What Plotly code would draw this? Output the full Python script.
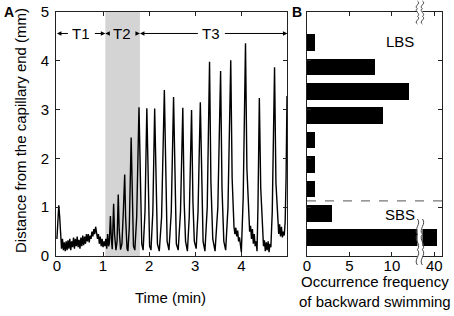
import plotly.graph_objects as go

# ---------------- data ----------------
time_min = [0.00, 0.02, 0.04, 0.06, 0.08, 0.10, 0.12, 0.14, 0.16, 0.18, 0.20, 0.22, 0.24, 0.26, 0.28,
            0.30, 0.32, 0.34, 0.36, 0.38, 0.40, 0.42, 0.44, 0.46, 0.48, 0.50, 0.52, 0.54, 0.56, 0.58,
            0.60, 0.62, 0.64, 0.66, 0.68, 0.70, 0.72, 0.74, 0.76, 0.78, 0.80, 0.82, 0.84, 0.86, 0.88,
            0.90, 0.92, 0.94, 0.96, 0.98, 1.00, 1.02, 1.04, 1.06, 1.08, 1.10, 1.12, 1.135, 1.16, 1.18,
            1.20, 1.23, 1.25, 1.28, 1.305, 1.33, 1.35, 1.38, 1.41, 1.44, 1.47, 1.49, 1.52, 1.54, 1.57,
            1.61, 1.635, 1.66, 1.69, 1.73, 1.78, 1.81, 1.84, 1.87, 1.91, 1.95, 1.98, 2.01, 2.04, 2.08,
            2.12, 2.15, 2.18, 2.22, 2.27, 2.33, 2.36, 2.39, 2.43, 2.48, 2.53, 2.56, 2.59, 2.63, 2.68,
            2.73, 2.76, 2.79, 2.83, 2.87, 2.92, 2.95, 2.98, 3.02, 3.06, 3.11, 3.14, 3.17, 3.21, 3.26,
            3.31, 3.34, 3.38, 3.43, 3.49, 3.55, 3.58, 3.62, 3.66, 3.71, 3.77, 3.80, 3.84, 3.86, 3.88,
            3.90, 3.92, 3.94, 3.96, 3.98, 4.00, 4.04, 4.09, 4.12, 4.16, 4.18, 4.20, 4.22, 4.24, 4.26,
            4.28, 4.30, 4.32, 4.34, 4.36, 4.39, 4.42, 4.46, 4.48, 4.50, 4.52, 4.54, 4.56, 4.58, 4.60,
            4.62, 4.64, 4.67, 4.72, 4.75, 4.79, 4.81, 4.83, 4.85, 4.87, 4.89, 4.91, 4.93, 4.95, 4.97,
            4.99]
distance_mm = [0.35, 0.60, 1.04, 0.80, 0.30, 0.15, 0.35, 0.12, 0.28, 0.10, 0.30, 0.12, 0.32, 0.15, 0.35,
               0.12, 0.30, 0.18, 0.38, 0.15, 0.35, 0.20, 0.40, 0.18, 0.33, 0.15, 0.38, 0.20, 0.42, 0.22,
               0.40, 0.25, 0.45, 0.30, 0.45, 0.28, 0.42, 0.35, 0.50, 0.40, 0.55, 0.45, 0.60, 0.42, 0.35,
               0.45, 0.25, 0.40, 0.20, 0.35, 0.18, 0.30, 0.20, 0.35, 0.15, 0.45, 0.20, 0.25, 0.82, 0.35,
               0.14, 1.07, 0.45, 0.12, 0.30, 1.26, 0.55, 0.13, 0.25, 0.90, 1.67, 0.80, 0.15, 0.10, 0.60,
               2.43, 1.00, 0.20, 0.12, 0.80, 3.05, 1.20, 0.25, 0.12, 0.90, 3.03, 1.10, 0.20, 0.12, 0.90,
               3.02, 1.20, 0.25, 0.10, 0.80, 3.40, 1.30, 0.30, 0.12, 0.90, 3.26, 1.20, 0.25, 0.12, 0.90,
               3.04, 1.10, 0.30, 0.10, 0.80, 2.99, 1.10, 0.30, 0.15, 0.90, 3.15, 1.20, 0.30, 0.10, 1.00,
               3.98, 1.50, 0.35, 0.10, 1.00, 3.79, 1.40, 0.30, 0.12, 1.00, 4.01, 1.60, 0.60, 0.45, 0.58,
               0.40, 0.52, 0.30, 0.38, 0.20, 0.08, 1.20, 4.36, 1.80, 0.70, 0.50, 0.62, 0.35, 0.55, 0.25,
               0.45, 0.20, 0.30, 0.10, 1.00, 3.24, 1.40, 0.45, 0.20, 0.32, 0.10, 0.28, 0.12, 0.30, 0.08,
               0.25, 0.18, 0.90, 3.87, 1.50, 0.70, 0.45, 0.65, 0.40, 0.60, 0.38, 0.50, 0.42, 0.70, 1.60,
               3.28]

# phases (min)
phase_names = ["T1", "T2", "T3"]
phase_start = [0.0, 1.05, 1.80]
phase_end = [1.05, 1.80, 5.0]

# panel B: bins of distance (mm) and counts of backward swimming
bin_center_mm = [0.375, 0.875, 1.375, 1.875, 2.375, 2.875, 3.375, 3.875, 4.375]
bs_count = [41, 3, 1, 1, 1, 9, 12, 8, 1]
sbs_lbs_border_mm = 1.13
b_tick_vals = [0, 5, 10, 40]


def broken(v):
    # broken x axis of panel B: 0..14 linear, 40 is drawn at 15
    return v if v <= 14 else 15 + (v - 40) * 0.3


# ---------------- figure ----------------
W, H = 454, 316
ML, MR, MT, MB = 56, 12, 12, 60
PW, PH = W - ML - MR, H - MT - MB
FONT = "Liberation Sans, Arial, sans-serif"
FS = 15


def px(x):
    return (x - ML) / PW


def py(y):
    return (H - MB - y) / PH


domA = [0, px(287)]
domB = [px(307), 1]
XB_RANGE = [0, 15.9]

fig = go.Figure()

fig.add_trace(go.Scatter(x=time_min, y=distance_mm, mode="lines",
                         line=dict(color="black", width=1.4),
                         xaxis="x", yaxis="y", showlegend=False, hoverinfo="skip"))

fig.add_trace(go.Bar(y=bin_center_mm, x=[broken(v) for v in bs_count], orientation="h",
                     width=0.34, marker=dict(color="black", line=dict(width=0)),
                     xaxis="x2", yaxis="y2", showlegend=False, hoverinfo="skip"))

axis_common = dict(showline=True, linecolor="#222", linewidth=1, mirror="allticks",
                   ticks="inside", ticklen=4, tickcolor="#222", showgrid=False, zeroline=False,
                   automargin=False,
                   tickfont=dict(family=FONT, size=FS, color="black"))

fig.update_layout(
    width=W, height=H, margin=dict(l=ML, r=MR, t=MT, b=MB, autoexpand=False),
    paper_bgcolor="white", plot_bgcolor="white",
    font=dict(family=FONT, size=FS, color="black"),
    bargap=0,
    xaxis=dict(domain=domA, range=[-0.02, 4.99], tickvals=[0, 1, 2, 3, 4], anchor="y",
               ticklabelstandoff=-4, **axis_common),
    yaxis=dict(domain=[0, 1], range=[0, 5], tickvals=[0, 1, 2, 3, 4, 5], anchor="x",
               ticklabelstandoff=3, **axis_common),
    xaxis2=dict(domain=domB, range=XB_RANGE, tickvals=[broken(v) for v in b_tick_vals],
                ticktext=[str(v) for v in b_tick_vals], anchor="y2", ticklabelstandoff=-4,
                **axis_common),
    yaxis2=dict(domain=[0, 1], range=[0, 5], tickvals=[0, 1, 2, 3, 4, 5], showticklabels=False,
                anchor="x2", **axis_common),
)

shapes = []
# shaded T2 region
shapes.append(dict(type="rect", xref="x", yref="y", x0=phase_start[1], x1=phase_end[1], y0=0, y1=5,
                   fillcolor="#d4d4d4", line=dict(width=0), layer="below"))
# SBS / LBS border
shapes.append(dict(type="line", xref="x2", yref="y2", x0=XB_RANGE[0], x1=XB_RANGE[1],
                   y0=sbs_lbs_border_mm, y1=sbs_lbs_border_mm,
                   line=dict(color="#777", width=1.2, dash="dash")))


def wave(xc, y0, y1, amp=2.2):
    # S-shaped wavy line path in pixel coordinates, converted to paper
    n = 3
    seg = (y1 - y0) / n
    d = f"M {px(xc):.5f},{py(y0):.5f}"
    for i in range(n):
        ya = y0 + seg * i
        sgn = 1 if i % 2 == 0 else -1
        d += (f" C {px(xc + sgn * amp * 2):.5f},{py(ya + seg * 0.33):.5f}"
              f" {px(xc - sgn * amp * 2):.5f},{py(ya + seg * 0.66):.5f}"
              f" {px(xc):.5f},{py(ya + seg):.5f}")
    return d


def break_mark(xc, y0, y1):
    out = []
    # white gap
    out.append(dict(type="rect", xref="paper", yref="paper", x0=px(xc - 2.5), x1=px(xc + 2.5),
                    y0=py(y1), y1=py(y0), fillcolor="white", line=dict(width=0), layer="above"))
    for dx in (-2.5, 2.5):
        out.append(dict(type="path", xref="paper", yref="paper", path=wave(xc + dx, y0, y1),
                        line=dict(color="#444", width=1), layer="above"))
    return out


# break position of panel B x axis in pixels
xbreak_val = 13.3
xb_px = 307 + (442 - 307) * (xbreak_val - XB_RANGE[0]) / (XB_RANGE[1] - XB_RANGE[0])
shapes += break_mark(xb_px, 1, 24)
shapes += break_mark(xb_px, 219, 265)
fig.update_layout(shapes=shapes)

ann = []
# phase arrows (stop short of the label text)
arrow_y = 4.56
label_x = [0.53, 1.42, 3.35]
for name, s, e, lx in zip(phase_names, phase_start, phase_end, label_x):
    for end in (s, e):
        ann.append(dict(x=end, y=arrow_y, ax=lx, ay=arrow_y, xref="x", yref="y", axref="x", ayref="y",
                        text="", showarrow=True, arrowhead=2, arrowsize=0.9, arrowwidth=1,
                        arrowcolor="black", standoff=0, startstandoff=12))
for name, lx in zip(phase_names, label_x):
    ann.append(dict(x=lx, y=arrow_y, xref="x", yref="y", text=name, showarrow=False,
                    xanchor="center", yanchor="middle", font=dict(size=FS)))


def paper_text(xp, yp, text, **kw):
    d = dict(x=px(xp), y=py(yp), xref="paper", yref="paper", text=text, showarrow=False,
             xanchor="center", yanchor="middle", font=dict(size=FS))
    d.update(kw)
    return d


# titles
ann.append(paper_text(170, 297, "Time (min)"))
ann.append(paper_text(20, 131, "Distance from the capillary end (mm)", textangle=-90))
ann.append(paper_text(375, 291, "Occurrence frequency<br>of backward swimming"))
# panel letters
ann.append(paper_text(9, 12, "<b>A</b>", font=dict(size=14)))
ann.append(paper_text(297, 12, "<b>B</b>", font=dict(size=14)))
# LBS / SBS
ann.append(dict(x=11.0, y=4.4, xref="x2", yref="y2", text="LBS", showarrow=False,
                xanchor="center", yanchor="middle", font=dict(size=FS)))
ann.append(dict(x=10.9, y=0.85, xref="x2", yref="y2", text="SBS", showarrow=False,
                xanchor="center", yanchor="middle", font=dict(size=FS)))

fig.update_layout(annotations=ann)
fig.write_html("out.html", config={"displayModeBar": False},
               post_script="document.body.style.margin='0';document.body.style.overflow='hidden';")
